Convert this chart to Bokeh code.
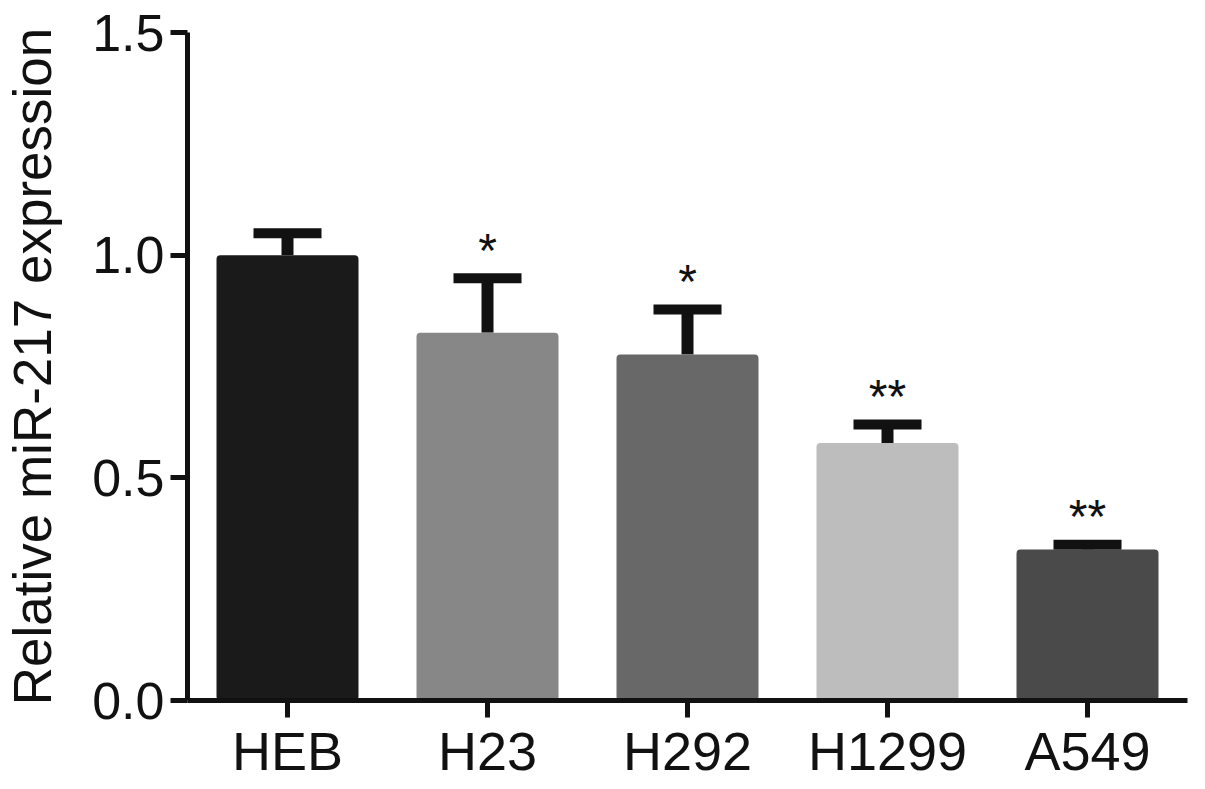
from bokeh.plotting import figure
from bokeh.models import (ColumnDataSource, FactorRange, Range1d, FixedTicker,
                          Whisker, TeeHead, NumeralTickFormatter)
from bokeh.core.properties import value
from bokeh.embed import file_html
from bokeh.resources import INLINE

# ---- data ----
categories = ["HEB", "H23", "H292", "H1299", "A549"]
means = [1.0, 0.826, 0.777, 0.578, 0.339]
errors = [0.049, 0.122, 0.101, 0.042, 0.011]
stars = ["", "*", "*", "**", "**"]
colors = ["#1a1a1a", "#878787", "#686868", "#bdbdbd", "#4a4a4a"]
y_ticks = [0.0, 0.5, 1.0, 1.5]

upper = [m + e for m, e in zip(means, errors)]
source = ColumnDataSource(dict(cat=categories, mean=means, upper=upper,
                               stars=stars, color=colors))

FONT = "Liberation Sans"
INK = "#111111"

p = figure(x_range=FactorRange(*categories), y_range=Range1d(0, 1.5),
           frame_width=1000, frame_height=668,
           min_border_left=187, min_border_top=32, min_border_right=8,
           min_border_bottom=78,
           output_backend="svg", toolbar_location=None)
p.outline_line_color = None
p.xgrid.grid_line_color = None
p.ygrid.grid_line_color = None
p.background_fill_color = "white"
p.border_fill_color = "white"

p.vbar(x="cat", top="mean", bottom=0, width=0.71, source=source,
       fill_color="color", line_color=None, border_radius=4)

wh = Whisker(base="cat", lower="mean", upper="upper", source=source,
             dimension="height", line_color=INK, line_width=12,
             upper_head=TeeHead(size=68, line_width=10, line_color=INK),
             lower_head=None, level="underlay")
p.add_layout(wh)

p.text(x="cat", y="upper", text="stars", source=source,
       text_font=value(FONT), text_font_size="48px", text_color=INK,
       text_align="center", text_baseline="alphabetic", y_offset=-28)

# axes
for ax in (p.xaxis[0], p.yaxis[0]):
    ax.axis_line_width = 5
    ax.axis_line_color = INK
    ax.major_tick_line_width = 5
    ax.major_tick_line_color = INK
    ax.major_tick_in = 0
    ax.major_tick_out = 17
    ax.minor_tick_line_color = None
    ax.major_label_text_font = FONT
    ax.major_label_text_color = INK

p.yaxis.ticker = FixedTicker(ticks=y_ticks)
p.yaxis.formatter = NumeralTickFormatter(format="0.0")
p.yaxis.major_label_text_font_size = "52px"
p.yaxis.major_label_standoff = 6
p.yaxis.axis_label = "Relative miR-217 expression"
p.yaxis.axis_label_text_font = FONT
p.yaxis.axis_label_text_font_size = "53px"
p.yaxis.axis_label_text_font_style = "normal"
p.yaxis.axis_label_text_color = INK
p.yaxis.axis_label_standoff = 27

p.xaxis.major_label_text_font_size = "54px"
p.xaxis.major_label_standoff = 3

open("out.html", "w").write(file_html(p, INLINE))
